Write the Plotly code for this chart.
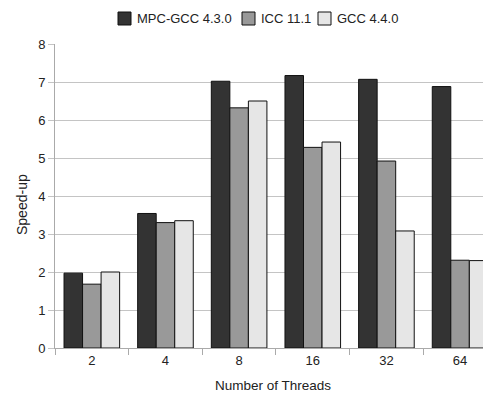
import plotly.graph_objects as go

threads = ["2", "4", "8", "16", "32", "64"]
mpc_gcc = [1.97, 3.54, 7.02, 7.17, 7.07, 6.88]
icc = [1.68, 3.30, 6.32, 5.28, 4.92, 2.31]
gcc = [2.00, 3.35, 6.50, 5.42, 3.08, 2.30]

names = ["MPC-GCC 4.3.0", "ICC 11.1", "GCC 4.4.0"]
colors = ["#333333", "#999999", "#e6e6e6"]
values = [mpc_gcc, icc, gcc]

OFF = 8  # page body margin
W, H = 491 - OFF, 403 - OFF
L, R, T, B = 55 - OFF, 0, 44 - OFF, 55
pw, ph = W - L - R, H - T - B

def px2paper_x(px):
    return (px - OFF - L) / pw

def px2paper_y(py):
    return (H + OFF - B - py) / ph

fig = go.Figure()
for name, vals, col in zip(names, values, colors):
    fig.add_trace(go.Bar(
        x=threads, y=vals, name=name, showlegend=False,
        marker=dict(color=col, line=dict(color="#111111", width=1)),
    ))

# manual legend (square swatch + label) matching the reference layout
legend_sq_left = [118, 242, 318]
sq = 13
sq_top = 12
for left, name, col in zip(legend_sq_left, names, colors):
    fig.add_shape(type="rect", xref="paper", yref="paper",
                  x0=px2paper_x(left), x1=px2paper_x(left + sq),
                  y0=px2paper_y(sq_top + sq), y1=px2paper_y(sq_top),
                  fillcolor=col, line=dict(color="#111111", width=1))
    fig.add_annotation(xref="paper", yref="paper",
                       x=px2paper_x(left + sq + 4), y=px2paper_y(sq_top + sq / 2),
                       xanchor="left", yanchor="middle", showarrow=False,
                       text=name, font=dict(size=13, color="#222222"))

# y-axis title (placed like the reference, slightly below plot centre)
fig.add_annotation(xref="paper", yref="paper",
                   x=px2paper_x(22), y=px2paper_y(205),
                   xanchor="center", yanchor="middle", showarrow=False,
                   textangle=-90, text="Speed-up",
                   font=dict(size=14, color="#222222"))

fig.update_layout(
    width=W, height=H,
    margin=dict(l=L, r=R, t=T, b=B, autoexpand=False),
    paper_bgcolor="white", plot_bgcolor="white",
    font=dict(family="Liberation Sans, Arial, sans-serif", size=13, color="#222222"),
    barmode="group", bargap=0.245, bargroupgap=0,
    showlegend=False,
    xaxis=dict(
        title=dict(text="Number of Threads", font=dict(size=13.5), standoff=13),
        range=[-0.5, 5.42], showgrid=False,
        showline=True, linecolor="#aaaaaa", linewidth=1,
        ticks="outside", tickson="boundaries", ticklen=6, tickcolor="#aaaaaa",
    ),
    yaxis=dict(
        range=[0, 8], dtick=1,
        showgrid=True, gridcolor="#c4c4c4", gridwidth=1,
        showline=True, linecolor="#aaaaaa", linewidth=1,
        ticks="outside", ticklen=6, tickcolor="#c4c4c4",
        zeroline=False,
    ),
)

fig.write_html("out.html")
